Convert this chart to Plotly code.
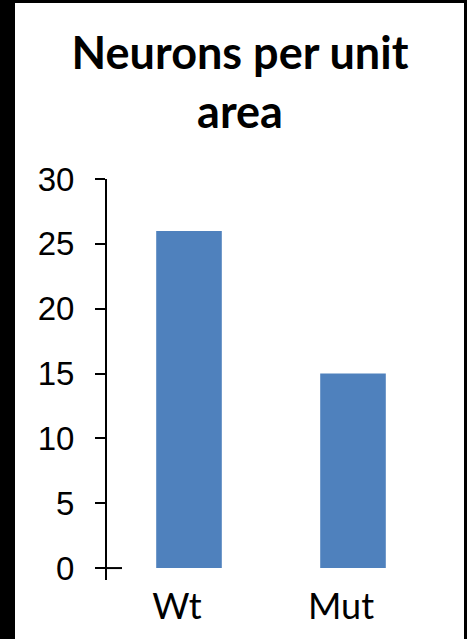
import plotly.graph_objects as go

categories = ["Wt", "Mut"]
values = [26, 15]
y_ticks = [0, 5, 10, 15, 20, 25, 30]
title_text = "Neurons per unit<br>area"

W, H = 467, 639
L, R, T, B = 107, 32, 179, 59
pw, ph = W - L - R, H - T - B

def px_x(p):
    return (p - L) / pw

def px_y(p):
    return (H - B - p) / ph

fig = go.Figure()
fig.add_trace(go.Bar(x=categories, y=values, marker=dict(color="#4F81BD", line=dict(width=0)),
                     hoverinfo="skip"))

fig.update_layout(
    width=W, height=H,
    margin=dict(l=L, r=R, t=T, b=B, pad=0),
    paper_bgcolor="black",
    plot_bgcolor="white",
    bargap=0.6,
    showlegend=False,
    title=dict(text="<b>" + title_text + "</b>", x=240 / W, xanchor="center",
               xref="container", yref="container", y=1 - 69 / H, yanchor="top",
               font=dict(family="Lato", size=45, color="black")),
    xaxis=dict(showline=False, ticks="", showgrid=False, zeroline=False,
               tickfont=dict(family="Lato", size=36, color="black"),
               ticklabelshift=-12, ticklabelstandoff=2),
    yaxis=dict(range=[-0.92, 30], tickvals=y_ticks, showline=True, linecolor="black",
               linewidth=2, ticks="outside", ticklen=10, tickwidth=2, tickcolor="black",
               showgrid=False, zeroline=False, ticklabelstandoff=14,
               tickfont=dict(family="Liberation Sans", size=33, color="black")),
    shapes=[
        dict(type="rect", xref="paper", yref="paper", x0=px_x(15), x1=px_x(464),
             y0=-0.3, y1=px_y(3), fillcolor="white", line=dict(width=0), layer="below"),
        dict(type="line", xref="paper", yref="y", x0=0, x1=15 / pw, y0=0, y1=0,
             line=dict(color="black", width=2)),
    ],
)

fig.write_html("out.html")
